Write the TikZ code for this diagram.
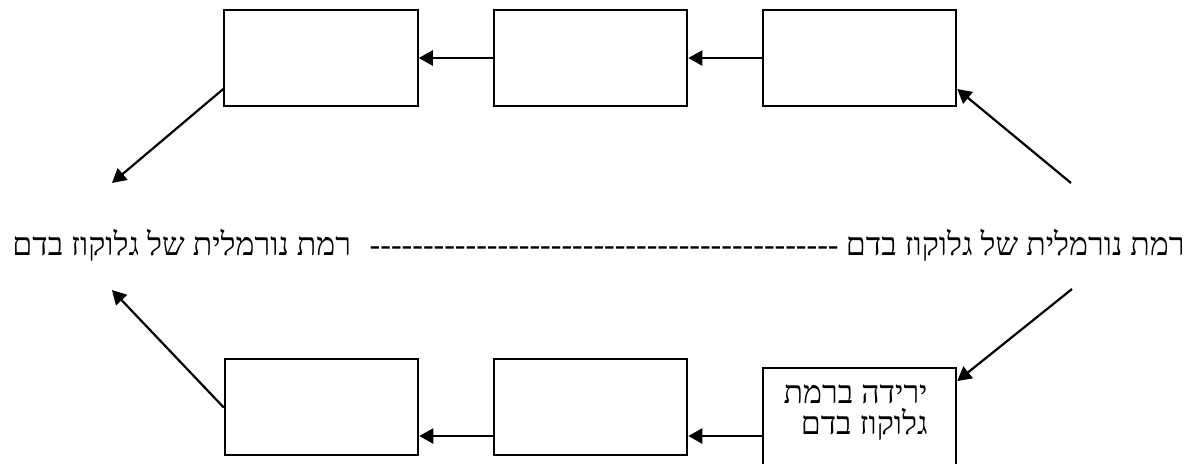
\documentclass[tikz,border=0pt]{standalone}
\usepackage{fontspec}
\usetikzlibrary{arrows.meta}
\TeXXeTstate=1
\newfontfamily\hebfont[Script=Hebrew]{Liberation Serif}
\begin{document}
\begin{tikzpicture}[x=0.5pt,y=-0.5pt,
  box/.style={draw=black,line width=1pt,minimum width=96.75pt,minimum height=48pt,inner sep=0pt},
  arr/.style={line width=1.1pt,-{Triangle[length=7pt,width=7.5pt]}},
  heb/.style={font=\hebfont\fontsize{16pt}{19pt}\selectfont,inner sep=0pt}]
\clip (0,0) rectangle (1197,463);
\fill[white] (0,0) rectangle (1197,463);
% top row
\node[box] (t1) at (321,58) {};
\node[box] (t2) at (590.5,58) {};
\node[box] (t3) at (859.5,58) {};
% bottom row
\node[box] (b1) at (321.5,406.5) {};
\node[box] (b2) at (590.5,406.5) {};
\node[box,minimum height=68pt] (b3) at (859.5,436) {};
\node[heb,anchor=base east] (lbla) at (928,403) {\beginR ירידה ברמת\endR};
\node[heb,anchor=base east] (lblb) at (928,434) {\beginR גלוקוז בדם\endR};
% middle line
\node[heb,anchor=base east] (rtext) at (1185,255) {\beginR רמת נורמלית של גלוקוז בדם\endR};
\node[heb,anchor=base west] (ltext) at (12,255) {\beginR רמת נורמלית של גלוקוז בדם\endR};
\node[heb,anchor=base east] (dash) at (839,255) {--------------------------------------------};
% free ends
\coordinate (tl) at (112,183);
\coordinate (bl) at (112,290);
\coordinate (tr) at (1071,183);
\coordinate (br) at (1072,289);
% arrows
\draw[arr] (t2.west) -- (t1.east);
\draw[arr] (t3.west) -- (t2.east);
\draw[arr] (b3.west) -- (b2.east |- b3.west);
\draw[arr] (b2.west |- b3.west) -- (b1.east |- b3.west);
\draw[arr] ([yshift=9pt]t1.south west) -- (tl);
\draw[arr] ([yshift=-25pt]b1.north west) -- (bl);
\draw[arr] (tr) -- ([yshift=9pt]t3.south east);
\draw[arr] (br) -- ([yshift=-7pt]b3.north east);
\end{tikzpicture}
\end{document}
